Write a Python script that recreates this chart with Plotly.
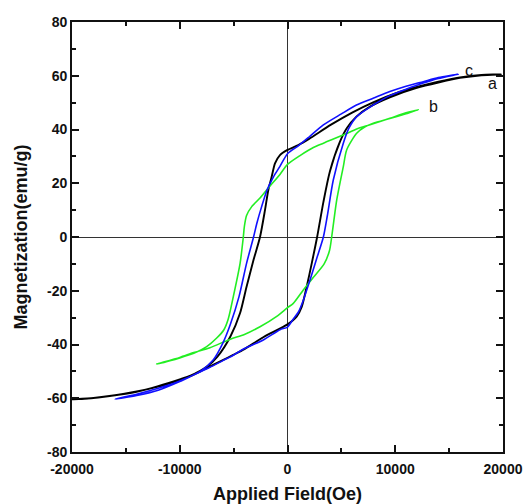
import plotly.graph_objects as go

# ---- data (Applied field in Oe, Magnetization in emu/g) ----
# sample a (black): descending branch then ascending branch
a_field = [19800, 18000, 16000, 14000, 12000, 10000, 8000, 6000, 4000, 2000, 1000, 0,
           -700, -1160, -1470, -1780, -2090, -2550, -3150, -3800, -4400, -5300, -6500,
           -7500, -9000, -10000, -12000, -14000, -16500, -18500, -20000,
           -18000, -16000, -14000, -12000, -10000, -9000, -7500, -6000, -5000, -4000,
           -2250, 0, 850, 1320, 1780, 2250, 2750, 3330, 3940, 4870, 5500, 6400, 7660,
           9500, 12000, 14000, 16000, 18000, 19800]
a_mag = [60.5, 60.3, 59.4, 57.8, 55.8, 53.4, 50.2, 46.3, 41.7, 36.5, 34.2, 32.4,
         30.5, 27.4, 22.4, 17.5, 10.0, 0.0, -8.5, -18.5, -28.3, -37.0, -44.5,
         -48.3, -51.6, -53.0, -55.5, -57.6, -59.2, -60.1, -60.4,
         -59.9, -58.9, -57.5, -55.7, -53.2, -51.8, -48.8, -45.8, -43.8, -41.7,
         -37.3, -32.5, -29.6, -26.0, -18.5, -9.8, 0.0, 13.0, 24.5, 35.5, 40.5, 44.8, 48.5,
         52.0, 55.5, 57.5, 59.2, 60.2, 60.5]

# sample b (green)
b_field = [12140, 11000, 9500, 7660, 6420, 5500, 3330, 2400, 1160, 0, -700, -1620,
           -2550, -3320, -3800, -4000, -4100, -4400, -5030, -5500, -5900, -6570,
           -7500, -8700, -10000, -12140,
           -10000, -8700, -7200, -5300, -4000, -2550, -1000, 0, 540, 1470, 2400,
           3400, 3900, 4100, 4300, 4570, 5180, 5490, 6420, 7200, 7960, 9500, 11000, 12140]
b_mag = [47.3, 46.2, 44.2, 41.8, 40.2, 38.5, 34.9, 33.3, 30.3, 27.0, 23.3, 19.0,
         14.5, 11.3, 8.0, 4.0, 0.0, -9.8, -22.2, -30.5, -34.5, -37.6,
         -40.8, -43.3, -45.0, -47.3,
         -44.8, -43.0, -41.2, -38.0, -36.3, -33.4, -29.5, -26.3, -24.7, -19.7, -15.0,
         -10.0, -5.0, 0.0, 6.0, 13.8, 26.2, 32.4, 38.6, 41.0, 42.3, 44.1, 45.9, 47.3]

# sample c (blue)
c_field = [15850, 14000, 12600, 11000, 9500, 8000, 6400, 5000, 3330, 2000, 1000, 0,
           -700, -1300, -1900, -2400, -2850, -3150, -3800, -4500, -5300, -6000, -6900,
           -8000, -10000, -12000, -14000, -16000,
           -14000, -12000, -10000, -8700, -7200, -6000, -5300, -4000, -2250, -700, 0,
           540, 1000, 1470, 2090, 2710, 3330, 3700, 4250, 5180, 5700, 6420, 7960, 9500,
           11000, 12600, 14000, 15850]
c_mag = [60.6, 59.3, 57.8, 56.1, 54.1, 51.7, 49.1, 45.8, 41.7, 37.2, 33.9, 31.0,
         26.3, 22.4, 17.5, 11.3, 5.0, 0.0, -9.8, -22.2, -32.5, -39.5, -45.8,
         -49.7, -53.6, -56.3, -58.5, -60.3,
         -59.0, -57.0, -53.8, -51.3, -48.5, -46.0, -44.6, -41.5, -38.3, -34.5, -33.5,
         -30.5, -28.0, -23.5, -16.0, -8.0, 0.0, 8.0, 21.2, 34.9, 40.5, 44.8, 49.1, 52.6,
         55.0, 57.3, 59.0, 60.6]

x_tickvals = [-20000, -10000, 0, 10000, 20000]
x_ticktext = ["-20000", "-10000", "0", "10000", "20000"]
y_tickvals = [-80, -60, -40, -20, 0, 20, 40, 60, 80]
y_ticktext = ["-80", "-60", "-40", "-20", "0", "20", "40", "60", "80"]

series = [
    ("a", a_field, a_mag, "#000000", 1.9),
    ("b", b_field, b_mag, "#22ee22", 1.6),
    ("c", c_field, c_mag, "#1010ff", 1.6),
]

fig = go.Figure()
for name, xs, ys, col, w in series:
    fig.add_trace(go.Scatter(x=xs, y=ys, mode="lines", name=name,
                             line=dict(color=col, width=w, shape="spline", smoothing=0.7),
                             showlegend=False))

# curve labels near the end of each curve
label_offsets = {"a": (-8, -9, "center"), "b": (9, 3, "left"), "c": (5, 4, "left")}
for name, xs, ys, col, w in series:
    dx, dy, anc = label_offsets[name]
    fig.add_annotation(x=xs[-1], y=ys[-1], text=name, showarrow=False,
                       xanchor=anc, yanchor="middle", xshift=dx, yshift=dy,
                       font=dict(family="Liberation Sans, Arial", size=16, color="#111"))

tickfont = dict(family="Liberation Sans, Arial", size=14, color="#111", weight="bold")
titlefont = dict(family="Liberation Sans, Arial", size=18, color="#111", weight="bold")

fig.update_xaxes(range=[-20000, 20000], tickvals=x_tickvals, ticktext=x_ticktext,
                 ticks="inside", ticklen=7, tickwidth=1.5, tickcolor="#111",
                 minor=dict(ticks="inside", ticklen=4, tickwidth=1.5, tickcolor="#111", dtick=5000, showgrid=False),
                 showline=True, linecolor="#111", linewidth=1.8, mirror="allticks",
                 showgrid=False, zeroline=True, zerolinecolor="#333", zerolinewidth=1,
                 ticklabelstandoff=3, automargin=False,
                 tickfont=tickfont, title=dict(text="Applied Field(Oe)", font=titlefont, standoff=14))
fig.update_yaxes(range=[-80, 80], tickvals=y_tickvals, ticktext=y_ticktext,
                 ticks="inside", ticklen=7, tickwidth=1.5, tickcolor="#111",
                 minor=dict(ticks="inside", ticklen=4, tickwidth=1.5, tickcolor="#111", dtick=10, showgrid=False),
                 showline=True, linecolor="#111", linewidth=1.8, mirror="allticks",
                 showgrid=False, zeroline=True, zerolinecolor="#333", zerolinewidth=1,
                 automargin=False,
                 tickfont=tickfont, title=dict(text="Magnetization(emu/g)", font=titlefont, standoff=15))

fig.update_layout(width=531, height=504, autosize=False,
                  margin=dict(l=72, r=28, t=22, b=52),
                  paper_bgcolor="white", plot_bgcolor="white")

fig.write_html("out.html")
